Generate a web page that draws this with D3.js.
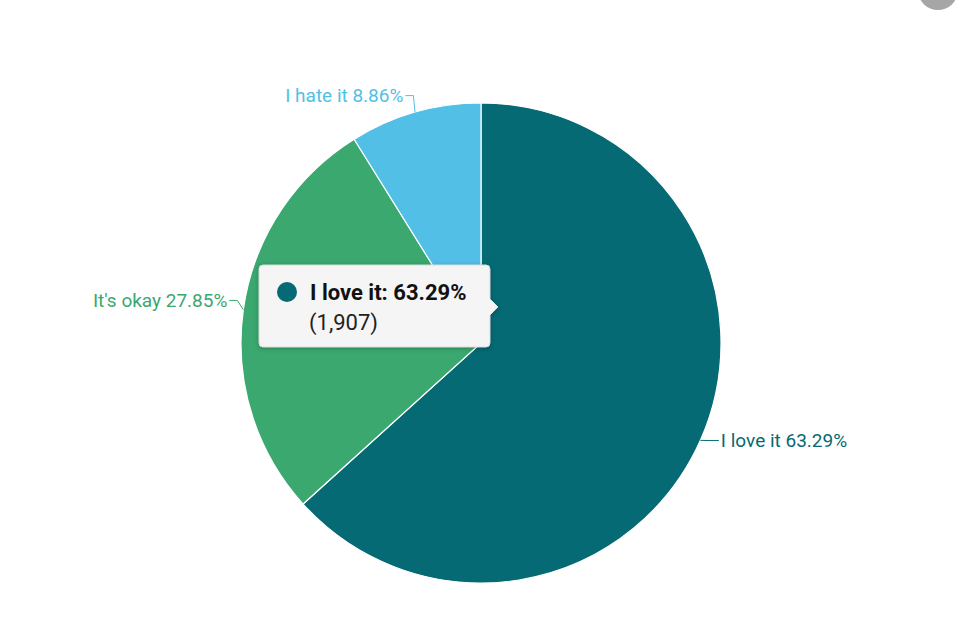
<!DOCTYPE html>
<html><head><meta charset="utf-8">
<script src="https://cdn.jsdelivr.net/npm/d3@7"></script>
<style>body{margin:0;background:#fff;font-family:Roboto,sans-serif}</style>
</head><body><svg id="c" width="967" height="620"></svg>
<script>
const categories=["I love it","It's okay","I hate it"];
const counts=[1907,839,267];
const colors=["#056a74","#3aa86f","#52c0e6"];
const total=d3.sum(counts);
const svg=d3.select("#c");
svg.append("circle").attr("cx",938).attr("cy",-10).attr("r",20).attr("fill","#a6a6a6");
const cx=481,cy=343,r=240;
const g=svg.append("g").attr("transform",`translate(${cx},${cy})`);
const pie=d3.pie().sort(null).value(d=>d)(counts);
const arc=d3.arc().innerRadius(0).outerRadius(r);
g.selectAll("path").data(pie).join("path").attr("d",arc).attr("fill",(d,i)=>colors[i]).attr("stroke","#fff").attr("stroke-width",1.2);
pie.forEach((d,i)=>{
  const a=(d.startAngle+d.endAngle)/2;
  const s=Math.sin(a),c=-Math.cos(a);
  const right=s>0;
  const x1=s*r,y1=c*r,x2=s*(r+6)+(right?3:0);
  const y2=c*(r+3)-(right?1:8+Math.abs(c)*6);
  const x3=x2+(right?10:-8);
  g.append("polyline").attr("points",`${x1},${y1} ${x2},${y2} ${x3},${y2}`).attr("fill","none").attr("stroke",colors[i]).attr("stroke-width",1);
  g.append("text").attr("x",x3+(right?2:-2)).attr("y",y2).attr("dy","0.35em")
   .attr("text-anchor",right?"start":"end").attr("fill",colors[i]).attr("font-size",19)
   .text(`${categories[i]} ${(counts[i]/total*100).toFixed(2)}%`);
});
const t=svg.append("g");
t.append("path").attr("d","M259,269 a4,4 0 0 1 4,-4 H486 a4,4 0 0 1 4,4 V299 L498,307 L490,315 V343 a4,4 0 0 1 -4,4 H263 a4,4 0 0 1 -4,-4 Z")
 .attr("fill","#f5f5f5").attr("stroke","#dcdcdc").attr("stroke-width",1)
 .style("filter","drop-shadow(0px 1px 2px rgba(0,0,0,0.25))");
t.append("circle").attr("cx",287).attr("cy",292).attr("r",10).attr("fill",colors[0]);
t.append("text").attr("x",310).attr("y",300).attr("font-size",22).attr("font-weight","bold").attr("fill","#111")
 .text(`${categories[0]}: ${(counts[0]/total*100).toFixed(2)}%`);
t.append("text").attr("x",309).attr("y",330).attr("font-size",22).attr("fill","#222").text(`(${d3.format(",")(counts[0])})`);
</script></body></html>
